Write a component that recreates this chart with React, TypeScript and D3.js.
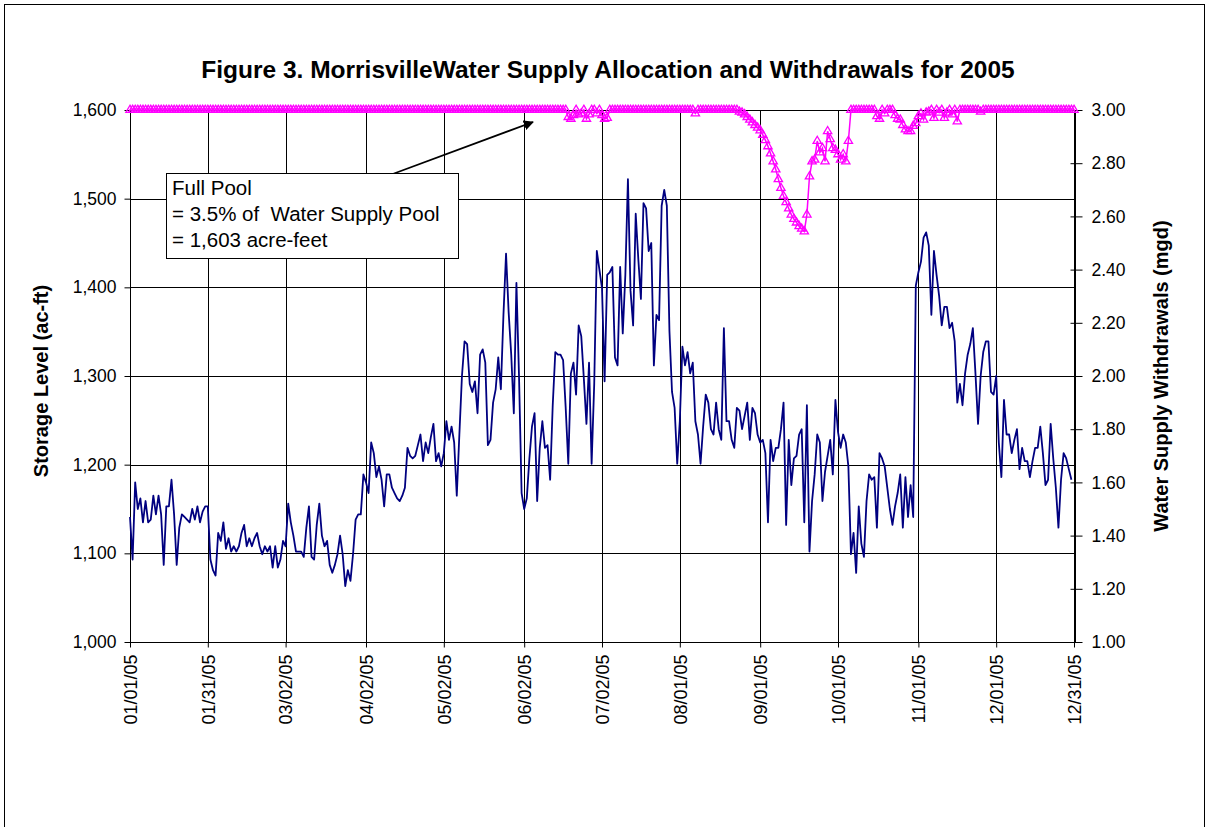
import React, { useEffect, useRef } from "react";
import * as d3 from "d3";

// daily water supply withdrawals (mgd), one array per month
const withdrawalsJan = [1.47, 1.31, 1.60, 1.50, 1.54, 1.45, 1.53, 1.45, 1.46, 1.55, 1.48, 1.55, 1.48, 1.29, 1.51, 1.51, 1.61, 1.48, 1.29, 1.43, 1.48, 1.47, 1.46, 1.45, 1.50, 1.46, 1.51, 1.45, 1.49, 1.51, 1.51];
const withdrawalsFeb = [1.31, 1.27, 1.25, 1.41, 1.38, 1.45, 1.35, 1.39, 1.34, 1.36, 1.34, 1.36, 1.41, 1.44, 1.36, 1.39, 1.36, 1.39, 1.41, 1.36, 1.33, 1.36, 1.34, 1.36, 1.28, 1.36, 1.28, 1.31];
const withdrawalsMar = [1.38, 1.36, 1.52, 1.45, 1.40, 1.34, 1.34, 1.34, 1.32, 1.43, 1.51, 1.32, 1.31, 1.44, 1.52, 1.40, 1.36, 1.38, 1.29, 1.26, 1.29, 1.33, 1.40, 1.33, 1.21, 1.27, 1.23, 1.33, 1.46, 1.48, 1.48];
const withdrawalsApr = [1.63, 1.60, 1.56, 1.75, 1.71, 1.62, 1.66, 1.61, 1.51, 1.63, 1.63, 1.58, 1.56, 1.54, 1.53, 1.55, 1.58, 1.73, 1.70, 1.69, 1.70, 1.74, 1.78, 1.68, 1.75, 1.71, 1.77, 1.82, 1.68, 1.71];
const withdrawalsMay = [1.66, 1.71, 1.83, 1.76, 1.81, 1.75, 1.55, 1.78, 2.00, 2.13, 2.12, 1.97, 1.94, 1.98, 1.86, 2.08, 2.10, 2.05, 1.74, 1.76, 1.90, 1.95, 2.07, 1.95, 2.23, 2.46, 2.24, 2.08, 1.86, 2.35, 2.00];
const withdrawalsJun = [1.56, 1.50, 1.54, 1.69, 1.81, 1.86, 1.53, 1.73, 1.83, 1.73, 1.74, 1.61, 1.89, 2.09, 2.08, 2.08, 2.06, 1.88, 1.67, 2.01, 2.05, 1.93, 2.19, 2.15, 1.99, 1.82, 2.05, 1.67, 1.97, 2.47];
const withdrawalsJul = [2.40, 2.33, 1.98, 2.38, 2.39, 2.41, 2.07, 2.04, 2.41, 2.16, 2.38, 2.74, 2.32, 2.19, 2.61, 2.44, 2.29, 2.65, 2.63, 2.47, 2.50, 2.04, 2.23, 2.21, 2.64, 2.70, 2.64, 2.17, 1.94, 1.88, 1.67];
const withdrawalsAug = [1.83, 2.11, 2.04, 2.09, 2.01, 2.05, 1.83, 1.78, 1.67, 1.81, 1.93, 1.90, 1.80, 1.78, 1.90, 1.80, 1.76, 2.18, 1.83, 1.83, 1.76, 1.73, 1.88, 1.87, 1.80, 1.85, 1.90, 1.76, 1.88, 1.86, 1.78];
const withdrawalsSep = [1.75, 1.76, 1.71, 1.45, 1.76, 1.68, 1.73, 1.73, 1.80, 1.90, 1.44, 1.76, 1.59, 1.69, 1.70, 1.78, 1.80, 1.45, 1.89, 1.34, 1.53, 1.63, 1.78, 1.75, 1.53, 1.64, 1.70, 1.76, 1.63, 1.91];
const withdrawalsOct = [1.79, 1.73, 1.78, 1.75, 1.66, 1.33, 1.41, 1.26, 1.51, 1.37, 1.32, 1.53, 1.63, 1.61, 1.62, 1.43, 1.71, 1.69, 1.66, 1.58, 1.50, 1.44, 1.51, 1.56, 1.63, 1.43, 1.62, 1.47, 1.59, 1.47, 2.34];
const withdrawalsNov = [2.39, 2.43, 2.52, 2.54, 2.49, 2.23, 2.47, 2.38, 2.30, 2.19, 2.26, 2.26, 2.18, 2.20, 2.13, 1.90, 1.97, 1.89, 2.01, 2.08, 2.12, 2.18, 2.01, 1.82, 2.00, 2.09, 2.13, 2.13, 1.94, 1.93];
const withdrawalsDec = [2.00, 1.75, 1.62, 1.91, 1.78, 1.78, 1.71, 1.76, 1.80, 1.65, 1.73, 1.68, 1.68, 1.62, 1.68, 1.73, 1.73, 1.81, 1.71, 1.59, 1.61, 1.82, 1.69, 1.58, 1.43, 1.61, 1.71, 1.69, 1.65, 1.61];

// daily storage level (ac-ft), one array per month
const storageJan = [1600, 1600, 1600, 1600, 1600, 1600, 1600, 1600, 1600, 1600, 1600, 1600, 1600, 1600, 1600, 1600, 1600, 1600, 1600, 1600, 1600, 1600, 1600, 1600, 1600, 1600, 1600, 1600, 1600, 1600, 1600];
const storageFeb = [1600, 1600, 1600, 1600, 1600, 1600, 1600, 1600, 1600, 1600, 1600, 1600, 1600, 1600, 1600, 1600, 1600, 1600, 1600, 1600, 1600, 1600, 1600, 1600, 1600, 1600, 1600, 1600];
const storageMar = [1600, 1600, 1600, 1600, 1600, 1600, 1600, 1600, 1600, 1600, 1600, 1600, 1600, 1600, 1600, 1600, 1600, 1600, 1600, 1600, 1600, 1600, 1600, 1600, 1600, 1600, 1600, 1600, 1600, 1600, 1600];
const storageApr = [1600, 1600, 1600, 1600, 1600, 1600, 1600, 1600, 1600, 1600, 1600, 1600, 1600, 1600, 1600, 1600, 1600, 1600, 1600, 1600, 1600, 1600, 1600, 1600, 1600, 1600, 1600, 1600, 1600, 1600];
const storageMay = [1600, 1600, 1600, 1600, 1600, 1600, 1600, 1600, 1600, 1600, 1600, 1600, 1600, 1600, 1600, 1600, 1600, 1600, 1600, 1600, 1600, 1600, 1600, 1600, 1600, 1600, 1600, 1600, 1600, 1600, 1600];
const storageJun = [1600, 1600, 1600, 1600, 1600, 1600, 1600, 1600, 1600, 1600, 1600, 1600, 1600, 1600, 1600, 1600, 1600, 1600, 1592, 1590, 1594, 1600, 1595, 1596, 1600, 1590, 1595, 1600, 1600, 1596];
const storageJul = [1600, 1594, 1590, 1591, 1600, 1600, 1600, 1600, 1600, 1600, 1600, 1600, 1600, 1600, 1600, 1600, 1600, 1600, 1600, 1600, 1600, 1600, 1600, 1600, 1600, 1600, 1600, 1600, 1600, 1600, 1600];
const storageAug = [1600, 1600, 1600, 1600, 1600, 1600, 1596, 1600, 1600, 1600, 1600, 1600, 1600, 1600, 1600, 1600, 1600, 1600, 1600, 1600, 1600, 1600, 1600, 1598, 1597, 1595, 1592, 1589, 1586, 1583, 1580];
const storageSep = [1577, 1572, 1566, 1559, 1551, 1542, 1533, 1522, 1512, 1503, 1496, 1489, 1482, 1477, 1473, 1469, 1466, 1463, 1482, 1525, 1542, 1544, 1565, 1552, 1557, 1542, 1576, 1567, 1557, 1555];
const storageOct = [1550, 1544, 1550, 1542, 1565, 1600, 1600, 1600, 1600, 1600, 1600, 1600, 1600, 1600, 1600, 1593, 1590, 1600, 1596, 1600, 1600, 1600, 1594, 1590, 1589, 1583, 1578, 1576, 1576, 1582, 1585];
const storageNov = [1593, 1596, 1589, 1597, 1598, 1600, 1591, 1600, 1597, 1600, 1591, 1597, 1600, 1595, 1600, 1587, 1600, 1600, 1600, 1600, 1600, 1600, 1600, 1600, 1598, 1600, 1600, 1600, 1600, 1600];
const storageDec = [1600, 1600, 1600, 1600, 1600, 1600, 1600, 1600, 1600, 1600, 1600, 1600, 1600, 1600, 1600, 1600, 1600, 1600, 1600, 1600, 1600, 1600, 1600, 1600, 1600, 1600, 1600, 1600, 1600, 1600, 1600];

const dateTickLabels = ["01/01/05", "01/31/05", "03/02/05", "04/02/05", "05/02/05", "06/02/05", "07/02/05", "08/01/05", "09/01/05", "10/01/05", "11/01/05", "12/01/05", "12/31/05"];
const storageTicks = [1000, 1100, 1200, 1300, 1400, 1500, 1600];
const withdrawalTicks = [1.0, 1.2, 1.4, 1.6, 1.8, 2.0, 2.2, 2.4, 2.6, 2.8, 3.0];
const noteLines = ["Full Pool", "= 3.5% of  Water Supply Pool", "= 1,603 acre-feet"];

const title = "Figure 3. MorrisvilleWater Supply Allocation and Withdrawals for 2005";
const leftTitle = "Storage Level (ac-ft)";
const rightTitle = "Water Supply Withdrawals (mgd)";

const FONT = "'Liberation Sans', Arial, Helvetica, sans-serif";

const App = () => {
    const chartRef = useRef(null);

    useEffect(() => {
        document.body.style.margin = "0";
        const width = 1209;
        const height = 827;
        const plot = { left: 130, right: 1074, top: 110, bottom: 642 };

        const start = new Date(2005, 0, 1);
        const withdrawals = [
            ...withdrawalsJan, ...withdrawalsFeb, ...withdrawalsMar, ...withdrawalsApr,
            ...withdrawalsMay, ...withdrawalsJun, ...withdrawalsJul, ...withdrawalsAug,
            ...withdrawalsSep, ...withdrawalsOct, ...withdrawalsNov, ...withdrawalsDec
        ].map((v, i) => ({ date: d3.timeDay.offset(start, i), value: v }));
        const storage = [
            ...storageJan, ...storageFeb, ...storageMar, ...storageApr,
            ...storageMay, ...storageJun, ...storageJul, ...storageAug,
            ...storageSep, ...storageOct, ...storageNov, ...storageDec
        ].map((v, i) => ({ date: d3.timeDay.offset(start, i), value: v }));

        const parseDate = d3.timeParse("%m/%d/%y");
        const tickDates = dateTickLabels.map(s => parseDate(s));

        d3.select(chartRef.current).select("svg").remove();

        const svg = d3.select(chartRef.current)
            .append("svg")
            .attr("width", width)
            .attr("height", height)
            .style("display", "block")
            .style("font-family", FONT);

        svg.append("rect")
            .attr("width", width).attr("height", height)
            .attr("fill", "#fff");

        // outer chart border
        svg.append("rect")
            .attr("x", 4.5).attr("y", 4.5)
            .attr("width", width - 9).attr("height", height + 20)
            .attr("fill", "none")
            .attr("stroke", "#000")
            .attr("stroke-width", 1);

        const x = d3.scaleTime()
            .domain([tickDates[0], tickDates[tickDates.length - 1]])
            .range([plot.left, plot.right]);

        const yLeft = d3.scaleLinear()
            .domain([1000, 1600])
            .range([plot.bottom, plot.top]);

        const yRight = d3.scaleLinear()
            .domain([1, 3])
            .range([plot.bottom, plot.top]);

        // horizontal gridlines
        svg.append("g")
            .selectAll("line")
            .data(storageTicks)
            .enter()
            .append("line")
            .attr("x1", plot.left).attr("x2", plot.right)
            .attr("y1", d => Math.round(yLeft(d)) + 0.5)
            .attr("y2", d => Math.round(yLeft(d)) + 0.5)
            .attr("stroke", "#000")
            .attr("stroke-width", 1);

        // vertical gridlines
        svg.append("g")
            .selectAll("line")
            .data(tickDates)
            .enter()
            .append("line")
            .attr("x1", d => Math.round(x(d)) + 0.5)
            .attr("x2", d => Math.round(x(d)) + 0.5)
            .attr("y1", plot.top).attr("y2", plot.bottom)
            .attr("stroke", "#000")
            .attr("stroke-width", 1);

        // left axis
        const leftAxis = svg.append("g")
            .attr("transform", `translate(${plot.left + 0.5},0)`)
            .call(d3.axisLeft(yLeft)
                .tickValues(storageTicks)
                .tickFormat(d3.format(","))
                .tickSize(6)
                .tickPadding(8));
        leftAxis.select(".domain").attr("stroke", "#000").attr("d", `M0,${plot.top}V${plot.bottom}`);
        leftAxis.selectAll("text")
            .attr("font-size", 17.5)
            .attr("font-family", FONT)
            .attr("fill", "#000");

        // right axis
        const rightAxis = svg.append("g")
            .attr("transform", `translate(${plot.right + 1.5},0)`)
            .call(d3.axisRight(yRight)
                .tickValues(withdrawalTicks)
                .tickFormat(d3.format(".2f"))
                .tickSize(7)
                .tickPadding(9));
        rightAxis.select(".domain").attr("stroke", "#000").attr("d", `M0,${plot.top}V${plot.bottom}`);
        rightAxis.selectAll(".tick line").attr("x1", -5);
        rightAxis.selectAll("text")
            .attr("font-size", 17.5)
            .attr("font-family", FONT)
            .attr("fill", "#000");

        // bottom axis
        const bottomAxis = svg.append("g")
            .attr("transform", `translate(0,${plot.bottom + 0.5})`)
            .call(d3.axisBottom(x)
                .tickValues(tickDates)
                .tickFormat(d3.timeFormat("%m/%d/%y"))
                .tickSize(5));
        bottomAxis.select(".domain").attr("stroke", "#000").attr("d", `M${plot.left},0H${plot.right}`);
        bottomAxis.selectAll("text")
            .attr("font-size", 18)
            .attr("font-family", FONT)
            .attr("fill", "#000")
            .attr("text-anchor", "end")
            .attr("transform", "rotate(-90)")
            .attr("x", -12)
            .attr("y", 0)
            .attr("dy", "0.35em");

        // withdrawals line (right axis)
        svg.append("path")
            .datum(withdrawals)
            .attr("fill", "none")
            .attr("stroke", "#000080")
            .attr("stroke-width", 1.8)
            .attr("stroke-linejoin", "round")
            .attr("d", d3.line<any>()
                .x(d => x(d.date))
                .y(d => yRight(d.value)));

        // storage line with triangle markers (left axis)
        svg.append("path")
            .datum(storage)
            .attr("fill", "none")
            .attr("stroke", "#FF00FF")
            .attr("stroke-width", 1.5)
            .attr("d", d3.line<any>()
                .x(d => x(d.date))
                .y(d => yLeft(d.value)));

        const tri = d3.symbol().type(d3.symbolTriangle).size(30);
        svg.append("g")
            .selectAll("path")
            .data(storage)
            .enter()
            .append("path")
            .attr("transform", d => `translate(${x(d.date)},${yLeft(d.value)})`)
            .attr("d", tri)
            .attr("fill", "none")
            .attr("stroke", "#FF00FF")
            .attr("stroke-width", 1.3);

        // annotation arrow
        const defs = svg.append("defs");
        defs.append("marker")
            .attr("id", "arrowHead")
            .attr("viewBox", "0 0 10 10")
            .attr("refX", 9).attr("refY", 5)
            .attr("markerWidth", 6).attr("markerHeight", 6)
            .attr("markerUnits", "strokeWidth")
            .attr("orient", "auto")
            .append("path")
            .attr("d", "M0,0L10,5L0,10Z")
            .attr("fill", "#000");

        svg.append("line")
            .attr("x1", 390).attr("y1", 175)
            .attr("x2", 533).attr("y2", 122)
            .attr("stroke", "#000")
            .attr("stroke-width", 1.7)
            .attr("marker-end", "url(#arrowHead)");

        // annotation box
        svg.append("rect")
            .attr("x", 166.5).attr("y", 173.5)
            .attr("width", 292).attr("height", 85)
            .attr("fill", "#fff")
            .attr("stroke", "#000")
            .attr("stroke-width", 1);

        svg.append("g")
            .selectAll("text")
            .data(noteLines)
            .enter()
            .append("text")
            .attr("x", 172)
            .attr("y", (d, i) => 195 + i * 26)
            .attr("font-size", 20.5)
            .style("white-space", "pre")
            .text(d => d);

        // titles
        svg.append("text")
            .attr("x", 608)
            .attr("y", 78)
            .attr("text-anchor", "middle")
            .attr("font-size", 24.5)
            .attr("font-weight", "bold")
            .text(title);

        svg.append("text")
            .attr("transform", `translate(48,${(plot.top + plot.bottom) / 2 + 5}) rotate(-90)`)
            .attr("text-anchor", "middle")
            .attr("font-size", 20)
            .attr("font-weight", "bold")
            .text(leftTitle);

        svg.append("text")
            .attr("transform", `translate(1168,${(plot.top + plot.bottom) / 2}) rotate(-90)`)
            .attr("text-anchor", "middle")
            .attr("font-size", 20)
            .attr("font-weight", "bold")
            .text(rightTitle);
    }, []);

    return <div ref={chartRef}></div>;
};

export default App;
